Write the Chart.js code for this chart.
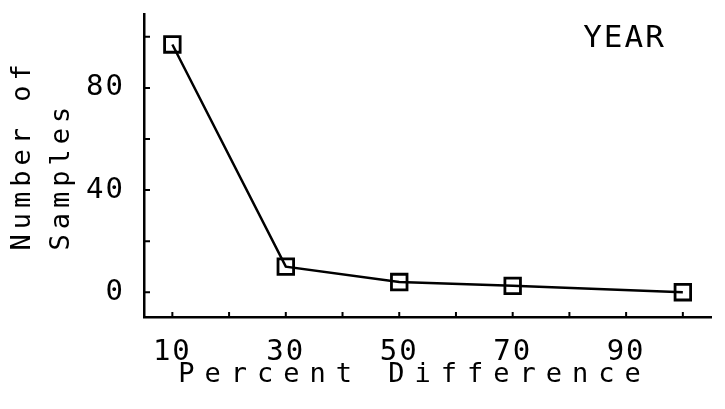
<!DOCTYPE html>
<html>
<head>
<meta charset="utf-8">
<script src="https://cdn.jsdelivr.net/npm/chart.js@4/dist/chart.umd.min.js"></script>
<style>
  html,body{margin:0;padding:0;background:#fff}
  #wrap{width:725px;height:409px}
</style>
</head>
<body>
<div id="wrap"><canvas id="c"></canvas></div>
<script>
// data
const pctDiff   = [10, 30, 50, 70, 100];
const nSamples  = [97, 10, 4, 2.5, 0];
const xTickVals = [10, 20, 30, 40, 50, 60, 70, 80, 90, 100];
const xLabels   = [10, 30, 50, 70, 90];
const yTickVals = [0, 20, 40, 60, 80, 100];
const yLabels   = [0, 40, 80];

const FONT = '"DejaVu Sans Mono", monospace';
const BASE_SPACING = '2px';

// plotter lettering is spaced wide, so titles get their own letter spacing
function spacedTitle(s, spacing) {
  if (s._spaced) return;
  const orig = s.drawTitle.bind(s);
  s.drawTitle = () => { s.ctx.letterSpacing = spacing; orig(); s.ctx.letterSpacing = BASE_SPACING; };
  s._spaced = true;
}

// inward tick marks + the YEAR tag
const plotterBits = {
  id: 'plotterBits',
  beforeDraw(chart) { chart.ctx.letterSpacing = BASE_SPACING; },
  afterDraw(chart) {
    const {ctx, chartArea: a, scales: {x, y}} = chart;
    ctx.save();
    ctx.strokeStyle = '#000';
    ctx.lineWidth = 2;
    ctx.beginPath();
    x.ticks.forEach(t => { const p = x.getPixelForValue(t.value); ctx.moveTo(p, a.bottom); ctx.lineTo(p, a.bottom - 5); });
    y.ticks.forEach(t => { const p = y.getPixelForValue(t.value); ctx.moveTo(a.left, p); ctx.lineTo(a.left + 6, p); });
    ctx.stroke();
    ctx.fillStyle = '#000';
    ctx.font = '31px ' + FONT;
    ctx.letterSpacing = '2px';
    ctx.textBaseline = 'middle';
    ctx.fillText('YEAR', a.right - 128, a.top + 25);
    ctx.restore();
  }
};

new Chart(document.getElementById('c'), {
  type: 'line',
  data: { datasets: [{
    data: pctDiff.map((v, i) => ({x: v, y: nSamples[i]})),
    borderColor: '#000', borderWidth: 2.5, tension: 0,
    pointStyle: 'rect', pointRadius: 11, pointBorderWidth: 2.8,
    pointBorderColor: '#000', pointBackgroundColor: 'rgba(0,0,0,0)'
  }]},
  options: {
    responsive: true, maintainAspectRatio: false, animation: false,
    layout: { padding: { left: 0, top: 8, right: 3, bottom: 0 } },
    plugins: { legend: { display: false }, tooltip: { enabled: false } },
    scales: {
      x: {
        type: 'linear', min: 5, max: 105,
        afterBuildTicks: s => { s.ticks = xTickVals.map(v => ({value: v})); },
        afterFit: s => { s.height = 92; s.paddingLeft = 0; s.paddingRight = 0; spacedTitle(s, '10px'); },
        grid: { display: false },
        border: { display: true, color: '#000', width: 2.5 },
        ticks: { color: '#000', padding: 10, maxRotation: 0, autoSkip: false,
          font: { family: FONT, size: 29 },
          callback: v => xLabels.includes(v) ? String(v) : '' },
        title: { display: true, text: 'Percent Difference ', color: '#000',
          font: { family: FONT, size: 27, lineHeight: 1.2 },
          padding: { top: 0, bottom: 18 } }
      },
      y: {
        min: -9.7, max: 109,
        afterBuildTicks: s => { s.ticks = yTickVals.map(v => ({value: v})); },
        afterFit: s => { s.width = 144; s.paddingTop = 0; s.paddingBottom = 0; spacedTitle(s, '5px'); },
        grid: { display: false },
        border: { display: true, color: '#000', width: 2.5 },
        ticks: { color: '#000', padding: 11, autoSkip: false,
          font: { family: FONT, size: 29 },
          callback: v => yLabels.includes(v) ? String(v) : '' },
        title: { display: true, text: [' Number of', ' Samples  '], color: '#000',
          font: { family: FONT, size: 27, lineHeight: 1.45 },
          padding: { top: 3, bottom: 0 } }
      }
    }
  },
  plugins: [plotterBits]
});
</script>
</body>
</html>
